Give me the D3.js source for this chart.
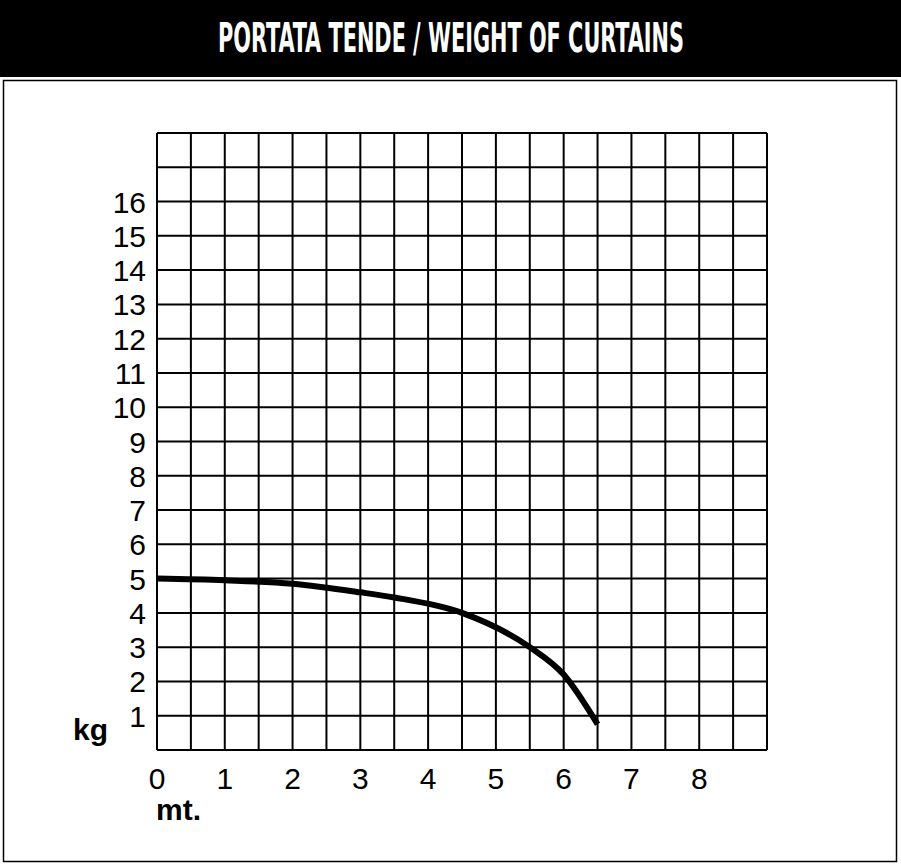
<!DOCTYPE html>
<html><head><meta charset="utf-8">
<script src="https://cdn.jsdelivr.net/npm/d3@7"></script>
<style>body{margin:0;background:#fff}</style></head>
<body><svg id="c" width="901" height="866"></svg>
<script>
const title = "PORTATA TENDE / WEIGHT OF CURTAINS";
const xTicks = [0,1,2,3,4,5,6,7,8];
const yTicks = [1,2,3,4,5,6,7,8,9,10,11,12,13,14,15,16];
const curveX = [0,1,2,3,3.5,4.5,5.5,6,6.5];
const curveY = [5,4.95,4.85,4.6,4.45,4.0,3.0,2.2,0.75];

const svg = d3.select("#c");
svg.append("rect").attr("x",0).attr("y",0).attr("width",901).attr("height",77).attr("fill","#000");
svg.append("text").attr("x",218).attr("y",52).attr("fill","#fff")
  .attr("font-family","DejaVu Sans Condensed, sans-serif").attr("font-weight","bold")
  .attr("font-size",40).attr("textLength",466).attr("lengthAdjust","spacingAndGlyphs").text(title);
svg.append("rect").attr("x",3.5).attr("y",80.5).attr("width",893).attr("height",781).attr("fill","none").attr("stroke","#000").attr("stroke-width",1.5);

const x = d3.scaleLinear().domain([0,9]).range([157,767]);
const y = d3.scaleLinear().domain([0,18]).range([750,133]);
const g = svg.append("g");
g.selectAll(".v").data(d3.range(0,9.01,0.5)).join("line")
  .attr("x1",d=>x(d)).attr("x2",d=>x(d)).attr("y1",y(0)).attr("y2",y(18)).attr("stroke","#000").attr("stroke-width",2);
g.selectAll(".h").data(d3.range(0,19)).join("line")
  .attr("y1",d=>y(d)).attr("y2",d=>y(d)).attr("x1",x(0)).attr("x2",x(9)).attr("stroke","#000").attr("stroke-width",2);

const font="Liberation Sans, Arial, sans-serif";
g.selectAll(".yl").data(yTicks).join("text").attr("x",146).attr("y",d=>y(d)+11).attr("text-anchor","end")
  .attr("font-family",font).attr("font-size",30).text(d=>d);
g.selectAll(".xl").data(xTicks).join("text").attr("x",d=>x(d)).attr("y",789).attr("text-anchor","middle")
  .attr("font-family",font).attr("font-size",30).text(d=>d);
svg.append("text").attr("x",73).attr("y",740).attr("font-family",font).attr("font-weight","bold").attr("font-size",30).text("kg");
svg.append("text").attr("x",156).attr("y",820).attr("font-family",font).attr("font-weight","bold").attr("font-size",30).text("mt.");

const pts = curveX.map((d,i)=>[d,curveY[i]]);
svg.append("path").datum(pts).attr("fill","none").attr("stroke","#000").attr("stroke-width",6)
  .attr("d",d3.line().x(d=>x(d[0])).y(d=>y(d[1])).curve(d3.curveMonotoneX));
</script></body></html>
